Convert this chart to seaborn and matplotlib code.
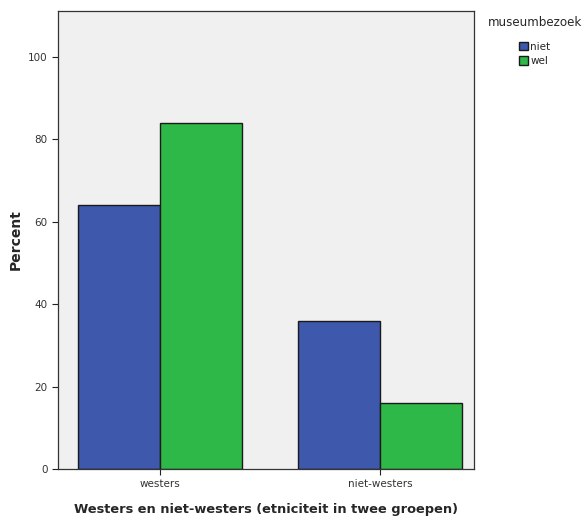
import matplotlib
matplotlib.use("Agg")
import matplotlib.pyplot as plt
import seaborn as sns
import pandas as pd

categories = ["westers", "niet-westers"]
hue_levels = ["niet", "wel"]
niet = [64, 36]
wel = [84, 16]

df = pd.DataFrame({
    "groep": categories * 2,
    "museumbezoek": ["niet"] * 2 + ["wel"] * 2,
    "percent": niet + wel,
})

sns.set_style("white")
plt.rcParams["font.family"] = ["DejaVu Sans"]

fig = plt.figure(figsize=(5.85, 5.21), dpi=100)
ax = fig.add_axes([0.0991, 0.0998, 0.7112, 0.8791])
ax.set_facecolor("#F0F0F0")

sns.barplot(data=df, x="groep", y="percent", hue="museumbezoek",
            order=categories, hue_order=hue_levels,
            palette=["#3E58AC", "#2EB848"], width=0.745,
            edgecolor="#1a1a1a", linewidth=1.0, saturation=1, ax=ax)

ax.set_xlim(-0.464, 1.427)
ax.set_ylim(0, 111.2)
ax.set_yticks([0, 20, 40, 60, 80, 100])
ax.tick_params(axis="both", labelsize=7.5, length=4, width=0.8,
               colors="#222222", labelcolor="#333333", direction="out",
               bottom=True, left=True)
for s in ax.spines.values():
    s.set_color("#333333")
    s.set_linewidth(0.9)

ax.set_ylabel("Percent", fontsize=10, fontweight="bold")
ax.set_xlabel("Westers en niet-westers (etniciteit in twee groepen)",
              fontsize=9.35, fontweight="bold", labelpad=10)

leg = ax.legend(title="museumbezoek", loc="upper left",
                bbox_to_anchor=(1.02, 1.0), frameon=False,
                fontsize=7.5, title_fontsize=8.6, handlelength=0.9,
                handleheight=0.9, handletextpad=0.2, labelspacing=0.45,
                borderaxespad=0.1)
leg._legend_box.align = "center"
leg._legend_box.sep = 9

fig.savefig("out.png", dpi=100)
